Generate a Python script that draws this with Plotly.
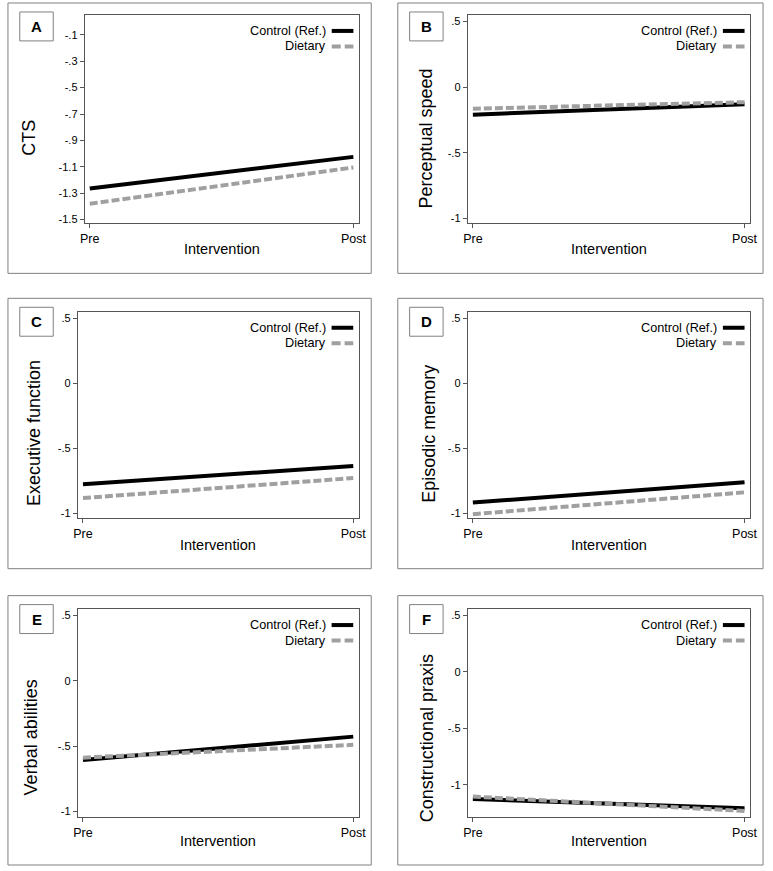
import plotly.graph_objects as go

W, H = 773, 871
FONT = "Liberation Sans, Arial, sans-serif"

# ---------------- data ----------------
timepoints = ["Pre", "Post"]
x_pos = [0, 1]
series_names = ["Control (Ref.)", "Dietary"]

panel_letters = ["A", "B", "C", "D", "E", "F"]
y_titles = ["CTS", "Perceptual speed", "Executive function",
            "Episodic memory", "Verbal abilities", "Constructional praxis"]

control_vals = [
    [-1.265, -1.025],
    [-0.21, -0.13],
    [-0.777, -0.638],
    [-0.919, -0.763],
    [-0.606, -0.427],
    [-1.124, -1.206],
]
dietary_vals = [
    [-1.38, -1.105],
    [-0.165, -0.115],
    [-0.884, -0.73],
    [-1.008, -0.84],
    [-0.588, -0.49],
    [-1.103, -1.23],
]

ytick_vals_A = [-0.1, -0.3, -0.5, -0.7, -0.9, -1.1, -1.3, -1.5]
ytick_text_A = ["-.1", "-.3", "-.5", "-.7", "-.9", "-1.1", "-1.3", "-1.5"]
ytick_vals_std = [0.5, 0, -0.5, -1]
ytick_text_std = [".5", "0", "-.5", "-1"]

y_ranges = [[-1.53, 0.051], [-1.04, 0.55], [-1.04, 0.55],
            [-1.04, 0.55], [-1.04, 0.55], [-1.28, 0.553]]
x_range = [-0.019, 1.021]

# ---------------- geometry (pixels) ----------------
box_x = {0: (3, 372), 1: (399, 770)}
box_y = {0: (3, 274), 1: (299, 570), 2: (597, 867)}
plot_x = [(81, 359.5), (470, 757), (74, 359.5), (470, 757), (74, 359.5), (470, 757)]
plot_y = {0: (15, 224), 1: (312.5, 519.5), 2: (610.5, 818.5)}
ytitle_x = [25, 428, 29, 430, 26, 428]
ytitle_y = {0: 138.5, 1: 434.5, 2: 739.5}
xtitle_y = {0: 250, 1: 546.5, 2: 843}


def px(x):
    return x / W


def py(y):
    return 1 - y / H


CONTROL_COLOR = "#000000"
DIET_COLOR = "#a0a0a0"
FRAME = "#555555"

fig = go.Figure()
shapes = []
annotations = []
layout_axes = {}

for i in range(6):
    col = i % 2
    row = i // 2
    n = i + 1
    xa = "x" if n == 1 else f"x{n}"
    ya = "y" if n == 1 else f"y{n}"
    xkey = "xaxis" if n == 1 else f"xaxis{n}"
    ykey = "yaxis" if n == 1 else f"yaxis{n}"

    x0, x1 = plot_x[i]
    y0, y1 = plot_y[row]

    fig.add_trace(go.Scatter(
        x=x_pos, y=control_vals[i], mode="lines", name=series_names[0],
        line=dict(color=CONTROL_COLOR, width=4), xaxis=xa, yaxis=ya,
        showlegend=False))
    fig.add_trace(go.Scatter(
        x=x_pos, y=dietary_vals[i], mode="lines", name=series_names[1],
        line=dict(color=DIET_COLOR, width=4, dash="8px,3px"), xaxis=xa, yaxis=ya,
        showlegend=False))

    if i == 0:
        tv, tt = ytick_vals_A, ytick_text_A
    else:
        tv, tt = ytick_vals_std, ytick_text_std

    layout_axes[xkey] = dict(
        domain=[px(x0), px(x1)], range=x_range, anchor=ya,
        tickmode="array", tickvals=x_pos, ticktext=timepoints,
        ticks="outside", ticklen=4, tickcolor=FRAME, tickwidth=1,
        showline=True, mirror=True, linecolor=FRAME, linewidth=1,
        showgrid=False, zeroline=False,
        tickfont=dict(family=FONT, size=12.5, color="#000"),
        fixedrange=True)
    layout_axes[ykey] = dict(
        domain=[py(y1), py(y0)], range=y_ranges[i], anchor=xa,
        tickmode="array", tickvals=tv, ticktext=tt,
        ticks="outside", ticklen=4, tickcolor=FRAME, tickwidth=1,
        showline=True, mirror=True, linecolor=FRAME, linewidth=1,
        showgrid=False, zeroline=False,
        tickfont=dict(family=FONT, size=11, color="#000"),
        fixedrange=True)

    # outer panel frame
    bx0, bx1 = box_x[col]
    by0, by1 = box_y[row]
    shapes.append(dict(type="rect", xref="paper", yref="paper",
                       x0=px(bx0), x1=px(bx1), y0=py(by1), y1=py(by0),
                       line=dict(color="#808080", width=1), fillcolor="rgba(0,0,0,0)",
                       layer="below"))

    # panel letter box
    lx0 = bx0 + 12
    ly0 = by0 + 9
    shapes.append(dict(type="rect", xref="paper", yref="paper",
                       x0=px(lx0), x1=px(lx0 + 34), y0=py(ly0 + 29), y1=py(ly0),
                       line=dict(color="#808080", width=1), fillcolor="white"))
    annotations.append(dict(text=f"<b>{panel_letters[i]}</b>", xref="paper", yref="paper",
                            x=px(lx0 + 17), y=py(ly0 + 14.5), showarrow=False,
                            xanchor="center", yanchor="middle",
                            font=dict(family=FONT, size=15, color="#000")))

    # y title
    annotations.append(dict(text=y_titles[i], xref="paper", yref="paper",
                            x=px(ytitle_x[i]), y=py(ytitle_y[row]), textangle=-90,
                            showarrow=False, xanchor="center", yanchor="middle",
                            font=dict(family=FONT, size=18, color="#000")))
    # x title
    annotations.append(dict(text="Intervention", xref="paper", yref="paper",
                            x=px((x0 + x1) / 2), y=py(xtitle_y[row]),
                            showarrow=False, xanchor="center", yanchor="middle",
                            font=dict(family=FONT, size=14.5, color="#000")))

    # legend (text left of key line)
    unit = (x1 - x0) / (x_range[1] - x_range[0])
    post_px = x0 + (1 - x_range[0]) * unit
    for k, (name, color, dash) in enumerate(zip(series_names,
                                               [CONTROL_COLOR, DIET_COLOR],
                                               ["solid", "9px,4px"])):
        ly = y0 + 16 + 15.5 * k
        annotations.append(dict(text=name, xref="paper", yref="paper",
                                x=px(post_px - 26), y=py(ly), showarrow=False,
                                xanchor="right", yanchor="middle",
                                font=dict(family=FONT, size=12.7, color="#000")))
        shapes.append(dict(type="line", xref="paper", yref="paper",
                           x0=px(post_px - 22), x1=px(post_px), y0=py(ly), y1=py(ly),
                           line=dict(color=color, width=4, dash=dash)))

fig.update_layout(
    width=W, height=H,
    margin=dict(l=0, r=0, t=0, b=0),
    paper_bgcolor="white", plot_bgcolor="white",
    shapes=shapes, annotations=annotations,
    showlegend=False,
    **layout_axes,
)

fig.write_html("out.html", config={"displayModeBar": False},
               post_script="document.body.style.margin='0';")
